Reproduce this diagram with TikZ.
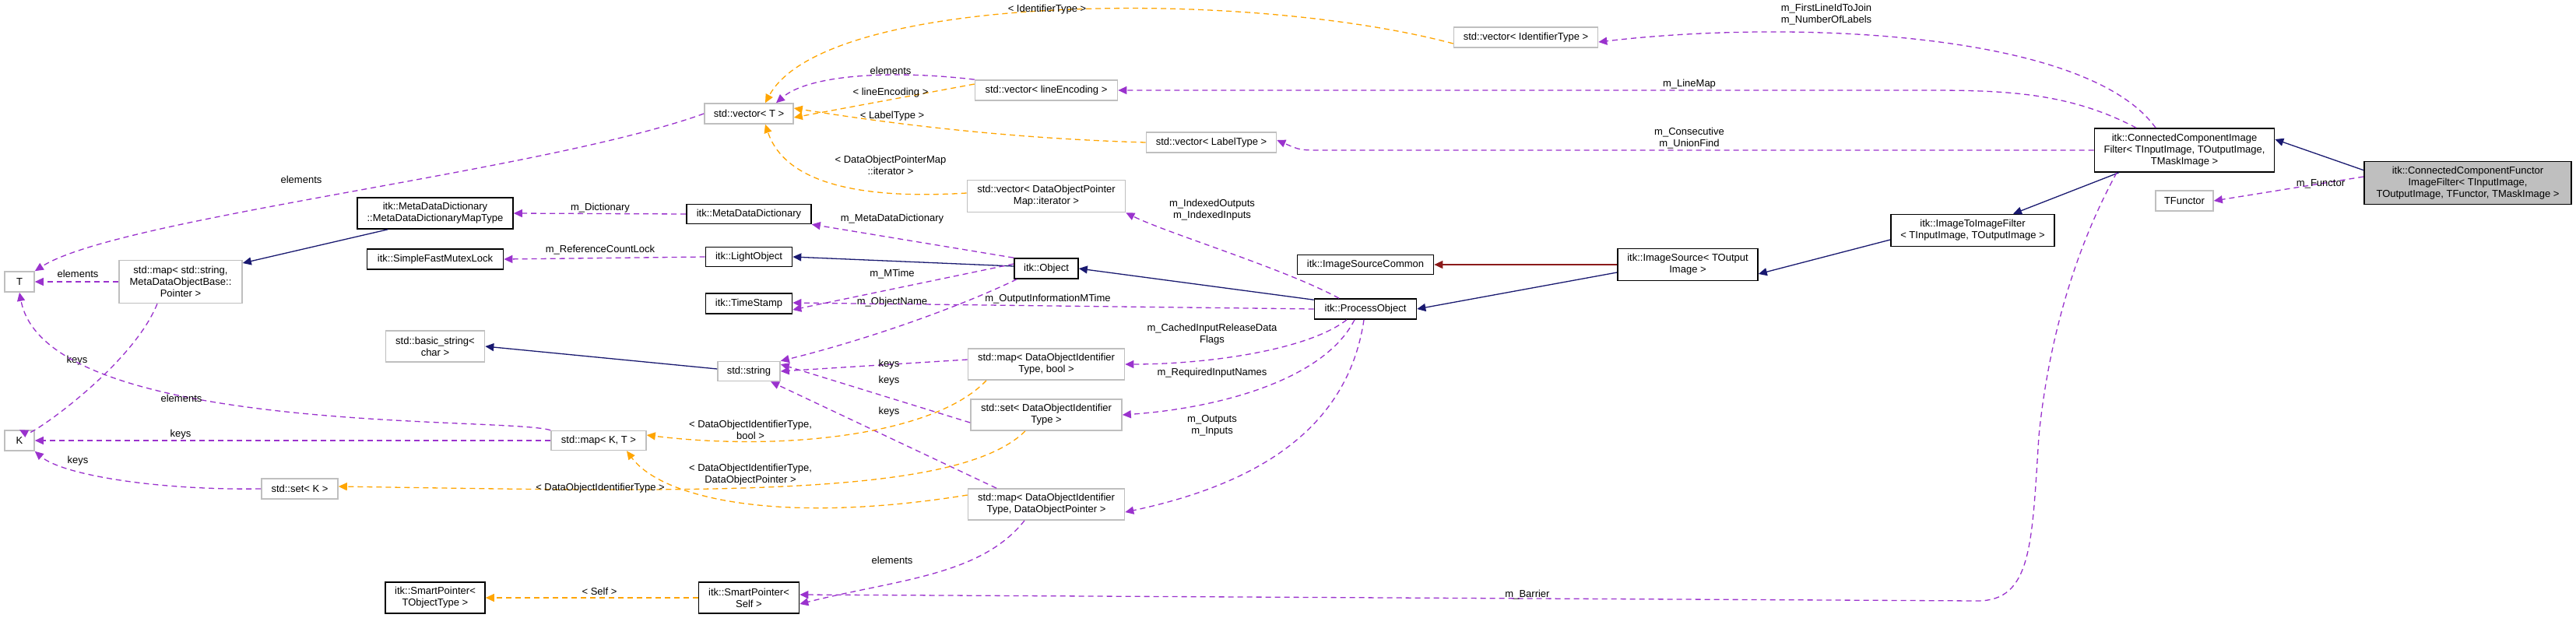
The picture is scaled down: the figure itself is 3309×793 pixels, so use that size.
\documentclass[tikz,border=0pt]{standalone}
\usepackage{fontspec}
\setmainfont{Liberation Sans}
\usetikzlibrary{arrows.meta}
\definecolor{use}{HTML}{9A32CD}
\definecolor{tmpl}{HTML}{FFA500}
\definecolor{inh}{HTML}{191970}
\definecolor{priv}{HTML}{8B1A1A}
\definecolor{gb}{HTML}{BFBFBF}
\begin{document}
\begin{tikzpicture}[x=1pt,y=-1pt,
  every node/.style={font=\fontsize{13}{15}\selectfont, align=center, inner sep=0pt},
  doc/.style={draw=black, line width=1.6pt, fill=white},
  und/.style={draw=gb, line width=1.6pt, fill=white},
  tip/.style={-{Triangle[length=11pt,width=10pt]}},
  usedge/.style={tip, draw=use, line width=1.3pt, dash pattern=on 7pt off 5pt},
  tedge/.style={tip, draw=tmpl, line width=1.3pt, dash pattern=on 7pt off 5pt},
  iedge/.style={tip, draw=inh, line width=1.3pt},
  pedge/.style={tip, draw=priv, line width=1.5pt},
  lbl/.style={fill=none}]
\useasboundingbox (0,0) rectangle (3309,793);
\fill[white] (0,0) rectangle (3309,793);
% nodes
\node[und, minimum width=38, minimum height=26] (T) at (25,362) {T};
\node[und, minimum width=38, minimum height=26] (K) at (25,566) {K};
\node[und, minimum width=158, minimum height=55] (mapstr) at (232,362) {std::map\textless{} std::string,\\MetaDataObjectBase::\\Pointer \textgreater};
\node[und, minimum width=114, minimum height=26] (vecT) at (962,146) {std::vector\textless{} T \textgreater};
\node[doc, minimum width=200, minimum height=40] (maptype) at (559,274) {itk::MetaDataDictionary\\::MetaDataDictionaryMapType};
\node[doc, minimum width=160, minimum height=25] (mdd) at (962,275) {itk::MetaDataDictionary};
\node[doc, minimum width=175, minimum height=26] (mutex) at (559,333) {itk::SimpleFastMutexLock};
\node[doc, minimum width=111, minimum height=25] (light) at (962,330) {itk::LightObject};
\node[doc, minimum width=111, minimum height=26] (ts) at (962,390) {itk::TimeStamp};
\node[und, minimum width=127, minimum height=40] (bstr) at (559,445) {std::basic\_string\textless\\char \textgreater};
\node[und, minimum width=80, minimum height=25] (str) at (962,477) {std::string};
\node[und, minimum width=122, minimum height=25] (mapKT) at (769,566) {std::map\textless{} K, T \textgreater};
\node[und, minimum width=98, minimum height=26] (setK) at (385,628) {std::set\textless{} K \textgreater};
\node[doc, minimum width=128, minimum height=40] (spT) at (559,768) {itk::SmartPointer\textless\\TObjectType \textgreater};
\node[doc, minimum width=129, minimum height=40] (spS) at (962,768) {itk::SmartPointer\textless\\Self \textgreater};
\node[und, minimum width=201, minimum height=40] (mapbool) at (1344,468) {std::map\textless{} DataObjectIdentifier\\Type, bool \textgreater};
\node[und, minimum width=194, minimum height=40] (setid) at (1344,533) {std::set\textless{} DataObjectIdentifier\\Type \textgreater};
\node[und, minimum width=201, minimum height=40] (mapptr) at (1344,648) {std::map\textless{} DataObjectIdentifier\\Type, DataObjectPointer \textgreater};
\node[doc, minimum width=82, minimum height=26] (obj) at (1344,345) {itk::Object};
\node[doc, minimum width=131, minimum height=26] (po) at (1754,397) {itk::ProcessObject};
\node[doc, minimum width=175, minimum height=25] (isc) at (1754,340) {itk::ImageSourceCommon};
\node[doc, minimum width=180, minimum height=41] (is) at (2168,340) {itk::ImageSource\textless{} TOutput\\Image \textgreater};
\node[doc, minimum width=210, minimum height=41] (i2i) at (2534,296) {itk::ImageToImageFilter\\\textless{} TInputImage, TOutputImage \textgreater};
\node[doc, minimum width=231, minimum height=56] (ccif) at (2806,193) {itk::ConnectedComponentImage\\Filter\textless{} TInputImage, TOutputImage,\\TMaskImage \textgreater};
\node[doc, fill=gb, minimum width=266, minimum height=55] (func) at (3170,235) {itk::ConnectedComponentFunctor\\ImageFilter\textless{} TInputImage,\\TOutputImage, TFunctor, TMaskImage \textgreater};
\node[und, minimum width=74, minimum height=26] (tf) at (2806,258) {TFunctor};
\node[und, minimum width=185, minimum height=26] (vecId) at (1960,48) {std::vector\textless{} IdentifierType \textgreater};
\node[und, minimum width=183, minimum height=26] (vecLE) at (1344,116) {std::vector\textless{} lineEncoding \textgreater};
\node[und, minimum width=167, minimum height=26] (vecLT) at (1556,183) {std::vector\textless{} LabelType \textgreater};
\node[und, minimum width=203, minimum height=41] (vecIt) at (1344,252) {std::vector\textless{} DataObjectPointer\\Map::iterator \textgreater};
% inheritance
\draw[iedge] (maptype.south west) ++(40,0) -- (mapstr.north east |- 0,338);
\draw[iedge] (obj.west) ++(0,-3) -- (light.east);
\draw[iedge] (po.north west) ++(0,2) -- (obj.east);
\draw[iedge] (str.west) ++(0,-3) -- (bstr.east);
\draw[iedge] (is.west) ++(0,10) -- (po.east);
\draw[pedge] (is.west) -- (isc.east);
\draw[iedge] (i2i.west) ++(0,12) -- ([yshift=-12]is.east);
\draw[iedge] (ccif.south west) ++(32,0) -- ([xshift=52]i2i.north);
\draw[iedge] (func.north west) ++(0,12) -- ([yshift=14]ccif.east);
% usage
\draw[usedge] (vecT.west) .. controls (700,220) and (150,280) .. (T.north east);
\node at (387,231) {elements};
\draw[usedge] (mapstr.west) -- (T.east);
\node at (100,352) {elements};
\draw[usedge] ([xshift=-30]mapstr.south) .. controls (170,470) and (40,560) .. (K.north);
\node at (99,463) {keys};
\draw[usedge] (mapKT.north west) .. controls (650,535) and (60,560) .. (T.south);
\node at (233,512) {elements};
\draw[usedge] (mapKT.west) -- (K.east);
\node at (232,558) {keys};
\draw[usedge] (setK.west) .. controls (200,630) and (80,610) .. (K.south east);
\node at (100,592) {keys};
\draw[usedge] (mdd.west) -- (maptype.east);
\node at (771,267) {m\_Dictionary};
\draw[usedge] (light.west) -- (mutex.east);
\node at (771,321) {m\_ReferenceCountLock};
\draw[usedge] (obj.north west) -- (mdd.south east);
\node at (1146,281) {m\_MetaDataDictionary};
\draw[usedge] ([yshift=6]obj.west) -- ([yshift=-8]ts.east);
\node at (1146,352) {m\_MTime};
\draw[usedge] ([xshift=4]obj.south west) .. controls (1220,400) and (1100,440) .. (str.north east);
\node at (1146,388) {m\_ObjectName};
\draw[usedge] (po.west) -- ([yshift=1]ts.east);
\node at (1346,384) {m\_OutputInformationMTime};
\draw[usedge] ([yshift=6]mapbool.west) -- (str.east);
\node at (1142,468) {keys};
\draw[usedge] ([yshift=-10]setid.west) -- ([yshift=9]str.east);
\node at (1142,489) {keys};
\draw[usedge] ([xshift=-64]mapptr.north) -- ([xshift=28]str.south);
\node at (1142,529) {keys};
\draw[usedge] ([xshift=-34]po.north) .. controls (1650,345) and (1500,300) .. (vecIt.south east);
\node at (1557,270) {m\_IndexedOutputs\\m\_IndexedInputs};
\draw[usedge] ([xshift=-24]po.south) .. controls (1680,450) and (1550,468) .. (mapbool.east);
\node at (1557,430) {m\_CachedInputReleaseData\\Flags};
\draw[usedge] ([xshift=-14]po.south) .. controls (1700,490) and (1560,525) .. (setid.east);
\node at (1557,479) {m\_RequiredInputNames};
\draw[usedge] ([xshift=-2]po.south) .. controls (1730,560) and (1600,625) .. ([yshift=-10]mapptr.east);
\node at (1557,547) {m\_Outputs\\m\_Inputs};
\draw[usedge] ([xshift=-28]mapptr.south) .. controls (1260,740) and (1150,745) .. ([yshift=-8]spS.east);
\node at (1146,720) {elements};
\draw[usedge] ([xshift=-87]ccif.south) .. controls (2660,330) and (2630,450) .. (2619,560) .. controls (2610,700) and (2610,772) .. (2540,772) -- ([yshift=4]spS.east);
\node at (1962,764) {m\_Barrier};
\draw[usedge] ([xshift=-37]ccif.north) .. controls (2680,40) and (2300,25) .. ([yshift=-6]vecId.east);
\node at (2346,19) {m\_FirstLineIdToJoin\\m\_NumberOfLabels};
\draw[usedge] ([xshift=-62]ccif.north) .. controls (2660,120) and (2580,116) .. (2480,116) -- (vecLE.east);
\node at (2170,108) {m\_LineMap};
\draw[usedge] (ccif.west) -- (1700,193) .. controls (1670,193) .. ([yshift=3]vecLT.east);
\node at (2170,178) {m\_Consecutive\\m\_UnionFind};
\draw[usedge] ([yshift=8]func.west) -- (tf.east);
\node at (2981,236) {m\_Functor};
\draw[usedge] (vecLE.north west) .. controls (1150,90) and (1040,95) .. ([xshift=35]vecT.north);
\node at (1144,91) {elements};
% templates
\draw[tedge] ([yshift=-8]vecId.west) .. controls (1600,-15) and (1060,-10) .. ([xshift=21]vecT.north);
\node at (1345,12) {\textless{} IdentifierType \textgreater};
\draw[tedge] ([yshift=8]vecLE.west) -- ([yshift=-5]vecT.east);
\node at (1144,119) {\textless{} lineEncoding \textgreater};
\draw[tedge] (vecLT.west) .. controls (1300,178) and (1150,160) .. ([yshift=7]vecT.east);
\node at (1146,149) {\textless{} LabelType \textgreater};
\draw[tedge] ([yshift=4]vecIt.west) .. controls (1050,260) and (1000,210) .. ([xshift=21]vecT.south);
\node at (1144,212) {\textless{} DataObjectPointerMap\\::iterator \textgreater};
\draw[tedge] ([xshift=-77]mapbool.south) .. controls (1200,560) and (1000,580) .. ([yshift=7]mapKT.east);
\node at (964,552) {\textless{} DataObjectIdentifierType,\\bool \textgreater};
\draw[tedge] ([yshift=12]mapptr.west) .. controls (1000,675) and (850,640) .. ([xshift=36]mapKT.south);
\node at (964,610) {\textless{} DataObjectIdentifierType,\\DataObjectPointer \textgreater};
\draw[tedge] ([xshift=-27]setid.south) .. controls (1230,640) and (900,632) .. ([yshift=3]setK.east);
\node at (771,627) {\textless{} DataObjectIdentifierType \textgreater};
\draw[tedge] (spS.west) -- (spT.east);
\node at (770,760) {\textless{} Self \textgreater};
\end{tikzpicture}
\end{document}
